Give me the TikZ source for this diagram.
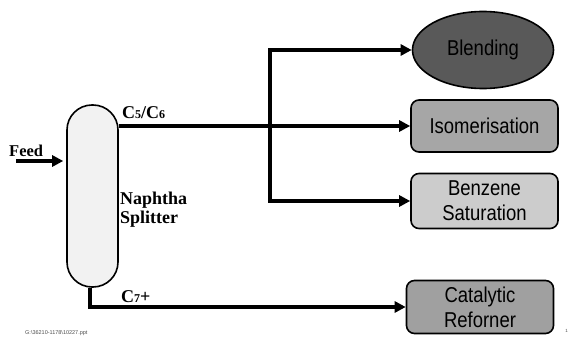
\documentclass[tikz,border=0pt]{standalone}
\usepackage{fontspec}
\setmainfont{Liberation Serif}
\newfontfamily\narrowsans[FakeStretch=0.86]{Liberation Sans}
\newfontfamily\plainsans{Liberation Sans}
\usetikzlibrary{arrows.meta,shapes.geometric}
\definecolor{colfill}{HTML}{F2F2F2}
\definecolor{blendfill}{HTML}{595959}
\definecolor{isofill}{HTML}{A6A6A6}
\definecolor{benzfill}{HTML}{CCCCCC}
\definecolor{catfill}{HTML}{A0A0A0}
\tikzset{
  unitbox/.style={draw=black, line width=1.6pt, rounded corners=8pt, minimum width=147pt, minimum height=52pt, inner sep=0pt, align=center, font=\narrowsans\fontsize{21.5}{25}\selectfont},
  flow/.style={line width=3.6pt, line join=miter, -{Triangle[length=11pt,width=11pt]}},
  lbl/.style={font=\bfseries\fontsize{16.5}{18}\selectfont, inner sep=0pt},
}
\begin{document}
\begin{tikzpicture}[x=1pt,y=-1pt]
\useasboundingbox (0,0) rectangle (570,339);
% column
\node[draw=black, line width=1.6pt, fill=colfill, rounded corners=25pt, minimum width=51pt, minimum height=182pt, inner sep=0pt] (col) at (92.5,196) {};
% units
\node[ellipse, draw=black, line width=1.6pt, fill=blendfill, minimum width=141pt, minimum height=77pt, inner sep=0pt, font=\narrowsans\fontsize{21.5}{25}\selectfont] (blend) at (483,50) {Blending};
\node[unitbox, fill=isofill] (iso) at (484.5,126) {Isomerisation};
\node[unitbox, fill=benzfill, minimum height=55pt] (benz) at (484.5,201) {Benzene\\Saturation};
\node[unitbox, fill=catfill, minimum height=53pt] (cat) at (480,307) {Catalytic\\Reforner};
% branch point
\coordinate (jn) at (270,126);
\coordinate (feedstart) at (16,161);
% flows
\draw[flow] (col.east |- iso.west) -- (iso.west);
\draw[flow] (jn) |- (blend.west);
\draw[flow] (jn) |- (benz.west);
\draw[flow, shorten >=3pt] (feedstart) -- (col.west |- feedstart);
\draw[flow] ([xshift=-2.5pt]col.south) |- (cat.west);
% labels
\node[lbl, anchor=base west] (feedlbl) at (9,157) {Feed};
\node[lbl, anchor=base west, font=\bfseries\fontsize{18}{18}\selectfont] (c56) at (122,119) {C{\fontsize{12}{12}\selectfont 5}/C{\fontsize{12}{12}\selectfont 6}};
\node[lbl, anchor=base west, font=\bfseries\fontsize{18}{18}\selectfont] (c7) at (121,302) {C{\fontsize{12}{12}\selectfont 7}+};
\node[lbl, anchor=base west, align=left, font=\bfseries\fontsize{18}{19}\selectfont] (nsname) at (120,223) {Naphtha\\Splitter};
% footer
\node[anchor=base west, inner sep=0pt, font=\plainsans\fontsize{5.5}{6}\selectfont, text=black!70] (foot) at (25,334) {G:\textbackslash 36210-1178\textbackslash 10227.ppt};
\node[anchor=base east, inner sep=0pt, font=\plainsans\fontsize{4.5}{5}\selectfont, text=black!70] (pg) at (568,332) {1};
\end{tikzpicture}
\end{document}
